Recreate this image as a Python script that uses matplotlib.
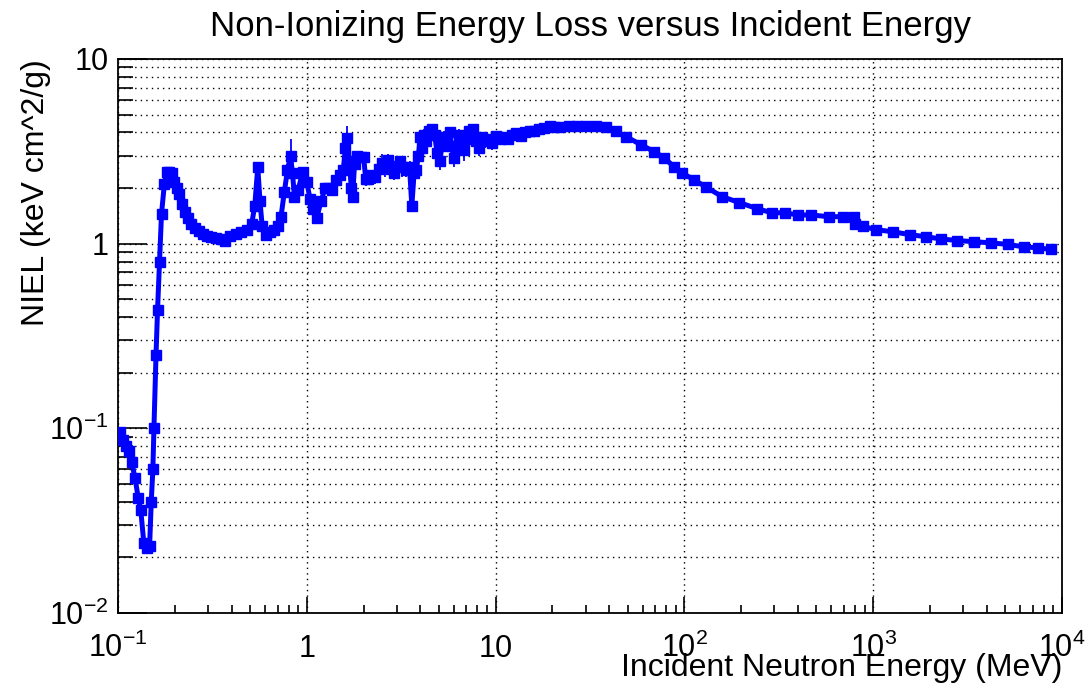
import numpy as np
import matplotlib
matplotlib.use('Agg')
from matplotlib import pyplot as plt
from matplotlib.ticker import FixedLocator, FixedFormatter, NullFormatter

plt.rcParams['font.family'] = ['Liberation Sans', 'DejaVu Sans']
plt.rcParams['mathtext.fontset'] = 'custom'
plt.rcParams['mathtext.rm'] = 'Liberation Sans'
plt.rcParams['mathtext.it'] = 'Liberation Sans:italic'
plt.rcParams['mathtext.bf'] = 'Liberation Sans:bold'

# incident neutron energy (MeV), NIEL (keV cm^2/g) and error
energy = [0.102, 0.106, 0.110, 0.114, 0.118, 0.123, 0.128, 0.132, 0.137, 0.143,
          0.147, 0.150, 0.153, 0.155, 0.159, 0.162, 0.166, 0.170, 0.176, 0.181,
          0.187, 0.193, 0.199, 0.205, 0.211, 0.218, 0.226, 0.235, 0.245, 0.256,
          0.268, 0.281, 0.295, 0.31, 0.33, 0.35, 0.37, 0.39, 0.42, 0.45,
          0.48, 0.51, 0.53, 0.55, 0.565, 0.58, 0.61, 0.64, 0.67, 0.70,
          0.73, 0.76, 0.79, 0.82, 0.84, 0.86, 0.90, 0.95, 1.0, 1.04,
          1.08, 1.13, 1.19, 1.25, 1.30, 1.36, 1.43, 1.50, 1.56, 1.60,
          1.64, 1.68, 1.72, 1.75, 1.79, 1.85, 1.93, 2.0, 2.05, 2.12,
          2.2, 2.3, 2.4, 2.5, 2.6, 2.7, 2.8, 2.9, 3.0, 3.1,
          3.2, 3.35, 3.5, 3.6, 3.7, 3.8, 3.9, 4.0, 4.1, 4.2,
          4.3, 4.45, 4.6, 4.75, 4.9, 5.05, 5.2, 5.35, 5.5, 5.7,
          5.85, 6.0, 6.2, 6.4, 6.6, 6.8, 7.0, 7.2, 7.4, 7.6,
          7.9, 8.2, 8.5, 8.8, 9.2, 9.6, 10.0, 10.5, 11.0, 11.6,
          12.2, 12.9, 13.6, 14.4, 15.2, 16.0, 17.0, 18.0, 19.3, 20.5,
          22, 24.5, 27, 30, 34, 38.5, 43.5, 49, 59, 69,
          78, 88, 97, 112, 130, 158, 195, 242, 290, 340,
          400, 470, 580, 690, 790, 800, 880, 1040, 1270, 1560,
          1900, 2300, 2790, 3420, 4200, 5200, 6300, 7500, 8700]
niel = [0.095, 0.086, 0.080, 0.075, 0.066, 0.054, 0.042, 0.036, 0.024, 0.0225,
        0.023, 0.04, 0.06, 0.10, 0.25, 0.44, 0.8, 1.45, 2.1, 2.45,
        2.45, 2.4, 2.15, 2.0, 1.85, 1.65, 1.48, 1.38, 1.28, 1.22,
        1.17, 1.13, 1.10, 1.08, 1.07, 1.06, 1.04, 1.10, 1.13, 1.16,
        1.19, 1.27, 1.6, 2.6, 1.7, 1.25, 1.12, 1.15, 1.18, 1.25,
        1.40, 1.9, 2.5, 3.0, 2.4, 1.8, 1.95, 2.45, 2.15, 1.75,
        1.55, 1.38, 1.7, 2.0, 2.0, 1.95, 2.2, 2.35, 2.5, 3.3,
        3.75, 2.8, 2.0, 1.8, 2.7, 3.0, 2.95, 2.95, 2.25, 2.25,
        2.35, 2.3, 2.55, 2.75, 2.6, 2.85, 2.55, 2.4, 2.65, 2.8,
        2.6, 2.5, 2.6, 1.6, 2.4, 2.5, 3.0, 3.8, 3.3, 3.9,
        3.6, 4.1, 4.2, 3.9, 3.1, 2.8, 3.4, 3.8, 3.7, 4.0,
        3.4, 2.9, 3.3, 3.9, 3.6, 3.2, 3.7, 4.1, 3.8, 4.2,
        3.6, 3.3, 3.8, 3.6, 3.7, 3.5, 3.85, 3.7, 3.8, 3.7,
        3.9, 3.95, 3.85, 4.0, 4.05, 4.1, 4.2, 4.25, 4.35, 4.3,
        4.3, 4.35, 4.35, 4.35, 4.32, 4.3, 4.05, 3.8, 3.43, 3.15,
        2.92, 2.61, 2.42, 2.22, 2.03, 1.8, 1.67, 1.55, 1.47, 1.47,
        1.43, 1.43, 1.40, 1.40, 1.40, 1.27, 1.24, 1.19, 1.16, 1.12,
        1.09, 1.06, 1.04, 1.025, 1.01, 0.99, 0.96, 0.95, 0.93]
niel_err = [0, 0, 0, 0, 0, 0, 0, 0, 0, 0,
            0, 0, 0, 0, 0, 0, 0, 0, 0, 0,
            0, 0, 0, 0, 0, 0, 0, 0, 0, 0,
            0, 0, 0, 0, 0, 0, 0, 0, 0, 0,
            0, 0, 0, 0.1, 0, 0, 0, 0, 0, 0,
            0, 0, 0.2, 0.7, 0, 0, 0, 0, 0, 0,
            0, 0, 0, 0, 0, 0, 0, 0, 0, 0.5,
            0.6, 0, 0, 0, 0, 0, 0.2, 0, 0.2, 0,
            0, 0.2, 0.2, 0.3, 0.3, 0.2, 0.3, 0.2, 0.3, 0.2,
            0.3, 0.2, 0.2, 0.1, 0.2, 0, 0.2, 0.3, 0.2, 0.3,
            0.3, 0.2, 0.2, 0.3, 0.3, 0.3, 0.3, 0.3, 0.3, 0.2,
            0.3, 0.3, 0.3, 0.3, 0.3, 0.4, 0.3, 0.2, 0.3, 0.2,
            0.3, 0.3, 0.2, 0.3, 0.2, 0.3, 0.2, 0.2, 0.2, 0.2,
            0.15, 0.15, 0.2, 0.15, 0.1, 0.1, 0.1, 0.1, 0.05, 0,
            0, 0, 0, 0, 0, 0, 0, 0, 0, 0,
            0, 0, 0, 0, 0, 0, 0, 0, 0, 0,
            0, 0, 0, 0, 0, 0, 0, 0, 0, 0,
            0, 0, 0, 0, 0, 0, 0, 0, 0]

x_ticks = [0.1, 1, 10, 100, 1000, 10000]
x_labels = [r'$\mathregular{10^{-1}}$', '1', '10', r'$\mathregular{10^{2}}$',
            r'$\mathregular{10^{3}}$', r'$\mathregular{10^{4}}$']
y_ticks = [0.01, 0.1, 1, 10]
y_labels = [r'$\mathregular{10^{-2}}$', r'$\mathregular{10^{-1}}$', '1', '10']

fig = plt.figure(figsize=(10.87, 6.84), dpi=100)
ax = fig.add_axes([118 / 1087, 71 / 684, 944 / 1087, 554 / 684])

ax.errorbar(energy, niel, yerr=niel_err, color='#0000ff', lw=3.6,
            marker='s', markersize=7.5, elinewidth=1.3, capsize=0, zorder=3)

ax.set_xscale('log')
ax.set_yscale('log')
ax.set_xlim(0.1, 1e4)
ax.set_ylim(0.01, 10)

ax.xaxis.set_major_locator(FixedLocator(x_ticks))
ax.xaxis.set_major_formatter(FixedFormatter(x_labels))
ax.xaxis.set_minor_locator(FixedLocator(
    [m * 10.0 ** e for e in range(-1, 4) for m in range(2, 10)]))
ax.xaxis.set_minor_formatter(NullFormatter())
ax.yaxis.set_major_locator(FixedLocator(y_ticks))
ax.yaxis.set_major_formatter(FixedFormatter(y_labels))
ax.yaxis.set_minor_locator(FixedLocator(
    [m * 10.0 ** e for e in range(-2, 1) for m in range(2, 10)]))
ax.yaxis.set_minor_formatter(NullFormatter())

ax.tick_params(axis='x', which='both', direction='in', top=False,
               labelsize=22, pad=32, width=1.2)
ax.tick_params(axis='x', which='major', length=11.5)
ax.tick_params(axis='x', which='minor', length=5.8)
ax.tick_params(axis='y', which='both', direction='in', right=False,
               labelsize=22, pad=7, width=1.2)
ax.tick_params(axis='y', which='major', length=21)
ax.tick_params(axis='y', which='minor', length=11)
for lab in ax.get_xticklabels():
    lab.set_verticalalignment('baseline')

ax.grid(True, axis='x', which='major', color='black', ls=(0, (1, 3)), lw=1)
ax.grid(True, axis='y', which='both', color='black', ls=(0, (1, 3)), lw=1)
for s in ax.spines.values():
    s.set_linewidth(1.3)

fig.text(590 / 1087, 1 - 36 / 684, 'Non-Ionizing Energy Loss versus Incident Energy',
         ha='center', va='baseline', fontsize=25)
fig.text(1062 / 1087, 8 / 684, 'Incident Neutron Energy (MeV)',
         ha='right', va='baseline', fontsize=23)
fig.text(36 / 1087, 1 - 59 / 684, 'NIEL (keV cm^2/g)', rotation=90,
         ha='center', va='top', fontsize=23)

fig.savefig('out.png', dpi=100)
